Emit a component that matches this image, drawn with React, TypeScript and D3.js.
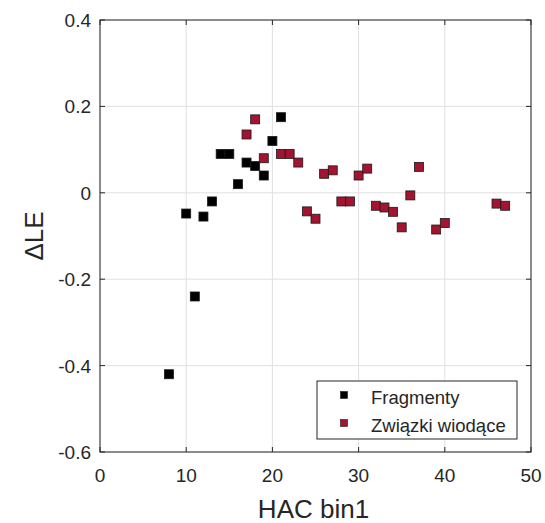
import React from "react";
import * as d3 from "d3";

const fragX = [8, 10, 11, 12, 13, 14, 15, 16, 17, 18, 19, 20, 21];
const fragY = [-0.42, -0.048, -0.24, -0.055, -0.02, 0.09, 0.09, 0.02, 0.07, 0.062, 0.04, 0.12, 0.175];

const leadX = [17, 18, 19, 21, 22, 23, 24, 25, 26, 27, 28, 29, 30, 31, 32, 33, 34, 35, 36, 37, 39, 40, 46, 47];
const leadY = [0.135, 0.17, 0.08, 0.09, 0.09, 0.07, -0.043, -0.06, 0.044, 0.052, -0.02, -0.02, 0.04, 0.056, -0.03, -0.034, -0.044, -0.08, -0.006, 0.06, -0.085, -0.07, -0.025, -0.03];

const xTicks = [0, 10, 20, 30, 40, 50];
const yTicks = [-0.6, -0.4, -0.2, 0, 0.2, 0.4];
const seriesNames = ["Fragmenty", "Związki wiodące"];
const seriesColors = ["#000000", "#A2142F"];

export default function App() {
  const W = 545, H = 523;
  const L = 100, R = 531, T = 20, B = 452;
  const x = d3.scaleLinear().domain([0, 50]).range([L, R]);
  const y = d3.scaleLinear().domain([-0.6, 0.4]).range([B, T]);
  const axisColor = "#262626";
  const font = "'Liberation Sans', Arial, sans-serif";
  const ms = 9;
  const tickLen = 5;
  const fmtY = (t: number) => (t === 0 ? "0" : d3.format(".1f")(t).replace("\u2212", "-"));
  const series = [
    { xs: fragX, ys: fragY, color: seriesColors[0] },
    { xs: leadX, ys: leadY, color: seriesColors[1] },
  ];
  return (
    <svg width={W} height={H} style={{ position: "absolute", left: 0, top: 0 }}>
      <rect x={0} y={0} width={W} height={H} fill="#fff" />
      {xTicks.map((t) => (
        <line key={"gx" + t} x1={x(t)} x2={x(t)} y1={T} y2={B} stroke="#e0e0e0" strokeWidth={1} />
      ))}
      {yTicks.map((t) => (
        <line key={"gy" + t} x1={L} x2={R} y1={y(t)} y2={y(t)} stroke="#e0e0e0" strokeWidth={1} />
      ))}
      {series.map((s, si) =>
        s.xs.map((xv, i) => (
          <rect
            key={si + "-" + i}
            x={x(xv) - ms / 2}
            y={y(s.ys[i]) - ms / 2}
            width={ms}
            height={ms}
            fill={s.color}
            stroke="#1a1a1a"
            strokeWidth={0.8}
          />
        ))
      )}
      <rect x={L} y={T} width={R - L} height={B - T} fill="none" stroke={axisColor} strokeWidth={1} />
      {xTicks.map((t) => (
        <g key={"tx" + t}>
          <line x1={x(t)} x2={x(t)} y1={B} y2={B - tickLen} stroke={axisColor} />
          <line x1={x(t)} x2={x(t)} y1={T} y2={T + tickLen} stroke={axisColor} />
          <text x={x(t)} y={B + 30} textAnchor="middle" fontFamily={font} fontSize={19} fill={axisColor}>
            {d3.format("d")(t)}
          </text>
        </g>
      ))}
      {yTicks.map((t) => (
        <g key={"ty" + t}>
          <line x1={L} x2={L + tickLen} y1={y(t)} y2={y(t)} stroke={axisColor} />
          <line x1={R} x2={R - tickLen} y1={y(t)} y2={y(t)} stroke={axisColor} />
          <text x={L - 9} y={y(t) + 7} textAnchor="end" fontFamily={font} fontSize={19} fill={axisColor}>
            {fmtY(t)}
          </text>
        </g>
      ))}
      <text x={(L + R) / 2 - 2} y={B + 66} textAnchor="middle" fontFamily={font} fontSize={26} fill={axisColor}>
        HAC bin1
      </text>
      <text
        transform={`translate(${43},${(T + B) / 2}) rotate(-90)`}
        textAnchor="middle"
        fontFamily={font}
        fontSize={26}
        fill={axisColor}
      >
        ΔLE
      </text>
      <rect x={317} y={381} width={200} height={58} fill="#fff" stroke={axisColor} strokeWidth={1} />
      {seriesNames.map((n, i) => (
        <g key={n}>
          <rect x={344 - 3.5} y={395 + i * 28 - 3.5} width={7} height={7} fill={seriesColors[i]} stroke="#1a1a1a" strokeWidth={0.6} />
          <text x={371} y={395 + i * 28 + 8.5} fontFamily={font} fontSize={18.5} fill={axisColor}>
            {n}
          </text>
        </g>
      ))}
    </svg>
  );
}
